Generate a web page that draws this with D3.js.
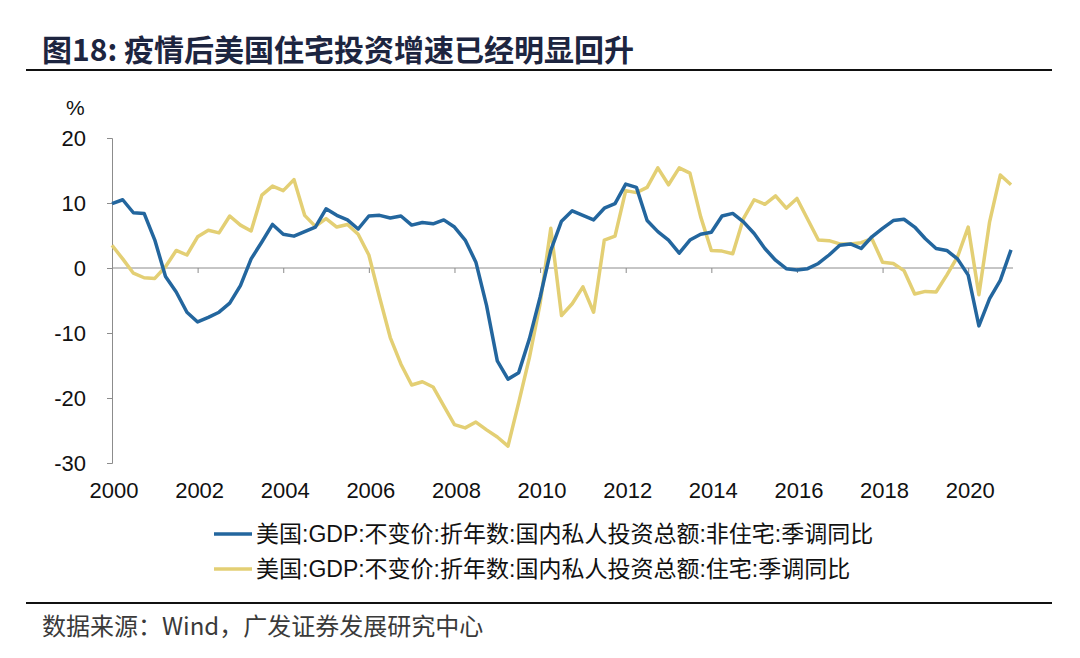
<!DOCTYPE html>
<html>
<head>
<meta charset="utf-8">
<script src="https://cdn.jsdelivr.net/npm/d3@7"></script>
<style>
  body { margin: 0; background: #fff; }
  svg { display: block; }
</style>
</head>
<body>
<div id="chart"></div>
<script>

// quarterly data, 2000Q1 .. 2021Q1 (85 quarters)
var startYear = 2000;
var tickYears = [2000, 2002, 2004, 2006, 2008, 2010, 2012, 2014, 2016, 2018, 2020];
var yTicks = [20, 10, 0, -10, -20, -30];

// 非住宅 (non-residential)
var nonResidential = [
  9.9, 10.5, 8.5, 8.4, 4.3, -1.3, -3.7, -6.8,
  -8.3, -7.6, -6.8, -5.4, -2.7, 1.4, 4.0, 6.7,
  5.2, 4.9, 5.6, 6.3, 9.1, 8.1, 7.4, 6.0,
  8.0, 8.1, 7.7, 8.0, 6.6, 7.0, 6.8, 7.4,
  6.3, 4.3, 0.9, -5.8, -14.3, -17.1, -16.1, -10.9,
  -4.5, 2.7, 7.2, 8.8, 8.1, 7.4, 9.2, 9.9,
  12.9, 12.4, 7.3, 5.6, 4.3, 2.3, 4.3, 5.2,
  5.5, 8.0, 8.4, 7.1, 5.3, 3.0, 1.2, -0.1,
  -0.3, -0.1, 0.7, 2.0, 3.5, 3.7, 3.0, 4.8,
  6.1, 7.3, 7.5, 6.3, 4.5, 3.0, 2.7, 1.4,
  -1.1, -8.9, -4.7, -1.9, 2.8
];

// 住宅 (residential)
var residential = [
  3.5, 1.4, -0.8, -1.5, -1.6, 0.2, 2.7, 2.0,
  4.8, 5.8, 5.4, 8.0, 6.6, 5.7, 11.2, 12.6,
  11.9, 13.6, 8.1, 6.4, 7.6, 6.3, 6.7, 5.2,
  2.0, -4.5, -10.7, -14.8, -18.0, -17.5, -18.3, -21.2,
  -24.1, -24.6, -23.7, -24.9, -26.0, -27.4, -20.7, -13.8,
  -5.5, 6.1, -7.3, -5.5, -2.9, -6.8, 4.3, 4.9,
  11.9, 11.6, 12.4, 15.4, 12.8, 15.4, 14.6, 7.9,
  2.7, 2.6, 2.2, 7.6, 10.5, 9.8, 11.1, 9.2,
  10.7, 7.5, 4.3, 4.2, 3.7, 3.7, 3.9, 4.5,
  0.9, 0.7, -0.4, -4.0, -3.6, -3.7, -1.1, 1.7,
  6.3, -4.1, 7.1, 14.3, 12.8
];

var legendNames = [
  "美国:GDP:不变价:折年数:国内私人投资总额:非住宅:季调同比",
  "美国:GDP:不变价:折年数:国内私人投资总额:住宅:季调同比"
];
var seriesColors = ["#23669e", "#e3cf74"];

var svgWidth = 1080;
var svgHeight = 658;

var svg = d3.select("#chart")
  .append("svg")
  .attr("width", svgWidth)
  .attr("height", svgHeight);

var numFont = "'Liberation Sans', Arial, 'Noto Sans CJK SC', sans-serif";
var cjkFont = "'Noto Sans CJK SC', 'Liberation Sans', sans-serif";

// title + rules
svg.append("text")
  .attr("x", 42)
  .attr("y", 61)
  .attr("font-family", cjkFont)
  .attr("font-weight", "bold")
  .attr("font-size", "30px")
  .attr("fill", "#1d2540")
  .text("图18: 疫情后美国住宅投资增速已经明显回升");

svg.append("line")
  .attr("x1", 26).attr("x2", 1052)
  .attr("y1", 70).attr("y2", 70)
  .attr("stroke", "#111").attr("stroke-width", 2);

svg.append("line")
  .attr("x1", 26).attr("x2", 1052)
  .attr("y1", 603).attr("y2", 603)
  .attr("stroke", "#111").attr("stroke-width", 2);

svg.append("text")
  .attr("x", 42)
  .attr("y", 635)
  .attr("font-family", cjkFont)
  .attr("font-size", "24px")
  .attr("fill", "#3a3a3a")
  .text("数据来源：Wind，广发证券发展研究中心");

// scales
var xScale = d3.scaleLinear()
  .domain([0, nonResidential.length - 1])
  .range([112, 1011]);

var yScale = d3.scaleLinear()
  .domain([-30, 20])
  .range([463, 138]);

// y axis
var leftAxis = d3.axisLeft(yScale)
  .tickValues(yTicks)
  .tickSize(5)
  .tickPadding(21)
  .tickFormat(function(d) { return String(d); });

var yAxis = svg.append("g")
  .attr("transform", "translate(112,0)")
  .call(leftAxis);

yAxis.select(".domain").attr("stroke", "#8c8c8c");
yAxis.selectAll(".tick line").attr("stroke", "#8c8c8c");
yAxis.selectAll(".tick text")
  .attr("font-family", numFont)
  .attr("font-size", "22px")
  .attr("fill", "#111");

svg.append("text")
  .attr("x", 66)
  .attr("y", 115)
  .attr("font-family", numFont)
  .attr("font-size", "21px")
  .attr("fill", "#111")
  .text("%");

// x axis on the zero line
var bottomAxis = d3.axisBottom(xScale)
  .tickValues(tickYears.map(function(y) { return (y - startYear) * 4; }))
  .tickSize(5)
  .tickFormat("");

var xAxis = svg.append("g")
  .attr("transform", "translate(0," + yScale(0) + ")")
  .call(bottomAxis);

xAxis.select(".domain")
  .attr("stroke", "#8c8c8c")
  .attr("d", "M112,0H1013");
xAxis.selectAll(".tick line").attr("stroke", "#8c8c8c");

// year labels below plot
svg.append("g")
  .selectAll("text")
  .data(tickYears)
  .enter()
  .append("text")
  .attr("x", function(d) { return xScale((d - startYear) * 4) + 2; })
  .attr("y", 498)
  .attr("text-anchor", "middle")
  .attr("font-family", numFont)
  .attr("font-size", "22px")
  .attr("fill", "#111")
  .text(function(d) { return d; });

// lines
var line = d3.line()
  .x(function(d, i) { return xScale(i); })
  .y(function(d) { return yScale(d); });

svg.append("path")
  .datum(residential)
  .attr("fill", "none")
  .attr("stroke", seriesColors[1])
  .attr("stroke-width", 3.5)
  .attr("stroke-linejoin", "round")
  .attr("d", line);

svg.append("path")
  .datum(nonResidential)
  .attr("fill", "none")
  .attr("stroke", seriesColors[0])
  .attr("stroke-width", 3.5)
  .attr("stroke-linejoin", "round")
  .attr("d", line);

// legend
var legend = svg.append("g");
legendNames.forEach(function(name, i) {
  var ly = 534 + i * 35;
  legend.append("line")
    .attr("x1", 214).attr("x2", 252)
    .attr("y1", ly).attr("y2", ly)
    .attr("stroke", seriesColors[i])
    .attr("stroke-width", 3.5);
  legend.append("text")
    .attr("x", 256)
    .attr("y", ly + 8)
    .attr("font-family", numFont)
    .attr("font-size", "23px")
    .attr("fill", "#111")
    .text(name);
});

</script>
</body>
</html>
